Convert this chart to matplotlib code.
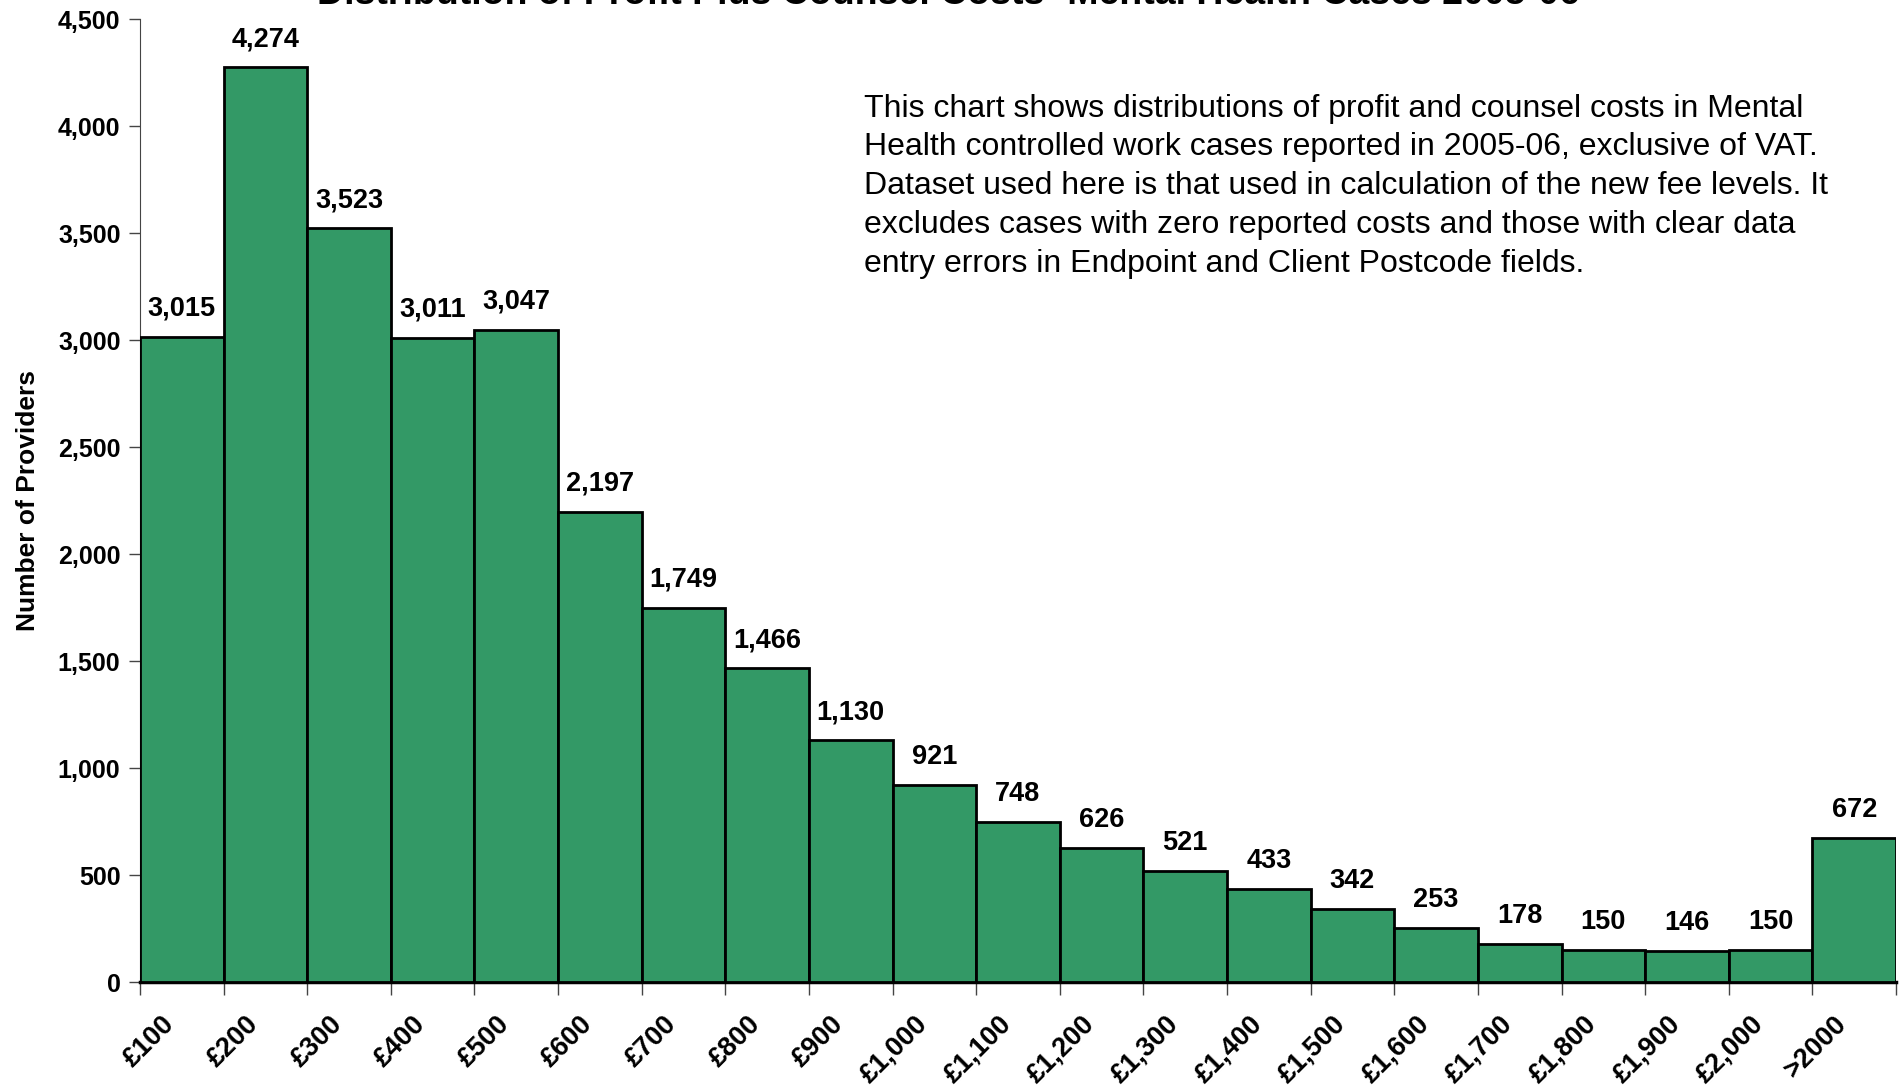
import matplotlib
matplotlib.use("Agg")
import matplotlib.pyplot as plt
import matplotlib.transforms as mtransforms
import numpy as np

plt.rcParams['font.family'] = ['Liberation Sans', 'DejaVu Sans']

# cost bands and counts of providers
bands = ['£100', '£200', '£300', '£400', '£500', '£600', '£700', '£800', '£900',
         '£1,000', '£1,100', '£1,200', '£1,300', '£1,400', '£1,500', '£1,600',
         '£1,700', '£1,800', '£1,900', '£2,000', '>2000']
providers = [3015, 4274, 3523, 3011, 3047, 2197, 1749, 1466, 1130, 921, 748,
             626, 521, 433, 342, 253, 178, 150, 146, 150, 672]

title = 'Distribution of Profit Plus Counsel Costs- Mental Health Cases 2005-06'
note = ('This chart shows distributions of profit and counsel costs in Mental\n'
        'Health controlled work cases reported in 2005-06, exclusive of VAT.\n'
        'Dataset used here is that used in calculation of the new fee levels. It\n'
        'excludes cases with zero reported costs and those with clear data\n'
        'entry errors in Endpoint and Client Postcode fields.')

fig = plt.figure(figsize=(19.04, 10.88), dpi=100)
ax = fig.add_axes([0.0735, 0.0974, 0.9223, 0.8851])

x = np.arange(len(bands))
ax.bar(x, providers, width=1.0, color='#339966', edgecolor='black', linewidth=2, zorder=3)

for xi, v in zip(x, providers):
    ax.text(xi, v + 70, '{:,}'.format(v), ha='center', va='bottom',
            fontsize=19.5, fontweight='bold')

ax.set_xlim(-0.5, len(bands) - 0.5)
ax.set_ylim(0, 4500)
ax.set_yticks(np.arange(0, 4501, 500))
ax.set_yticklabels(['{:,}'.format(t) for t in range(0, 4501, 500)],
                   fontsize=18, fontweight='bold')

# ticks at category boundaries, labels at category centres
ax.set_xticks(np.arange(-0.5, len(bands)), minor=False)
ax.set_xticklabels([])
ax.set_xticks(x, minor=True)
ax.set_xticklabels(bands, minor=True, rotation=45, ha='right', va='top',
                   rotation_mode='anchor', fontsize=19.5, fontweight='bold')
ax.tick_params(axis='x', which='minor', length=0, pad=21)
ax.tick_params(axis='x', which='major', length=9, width=1, color='#444444', direction='out')
ax.tick_params(axis='y', length=8, width=1, color='#444444', direction='out', pad=6)
shift = mtransforms.ScaledTranslation(-0.2, 0, fig.dpi_scale_trans)
for lab in ax.get_xticklabels(minor=True):
    lab.set_transform(lab.get_transform() + shift)

for s in ['top', 'right']:
    ax.spines[s].set_visible(False)
ax.spines['left'].set_color('#444444')
ax.spines['bottom'].set_linewidth(2.5)

ax.set_ylabel('Number of Providers', fontsize=19, fontweight='bold', labelpad=13)

# title sits mostly above the top edge, as in the source image
fig.text(0.498, 1 - 4 / 1088, title, ha='center', va='baseline',
         fontsize=27, fontweight='bold')
fig.text(0.454, 0.914, note, ha='left', va='top', fontsize=23, linespacing=1.38)

fig.savefig('out.png', dpi=100)
